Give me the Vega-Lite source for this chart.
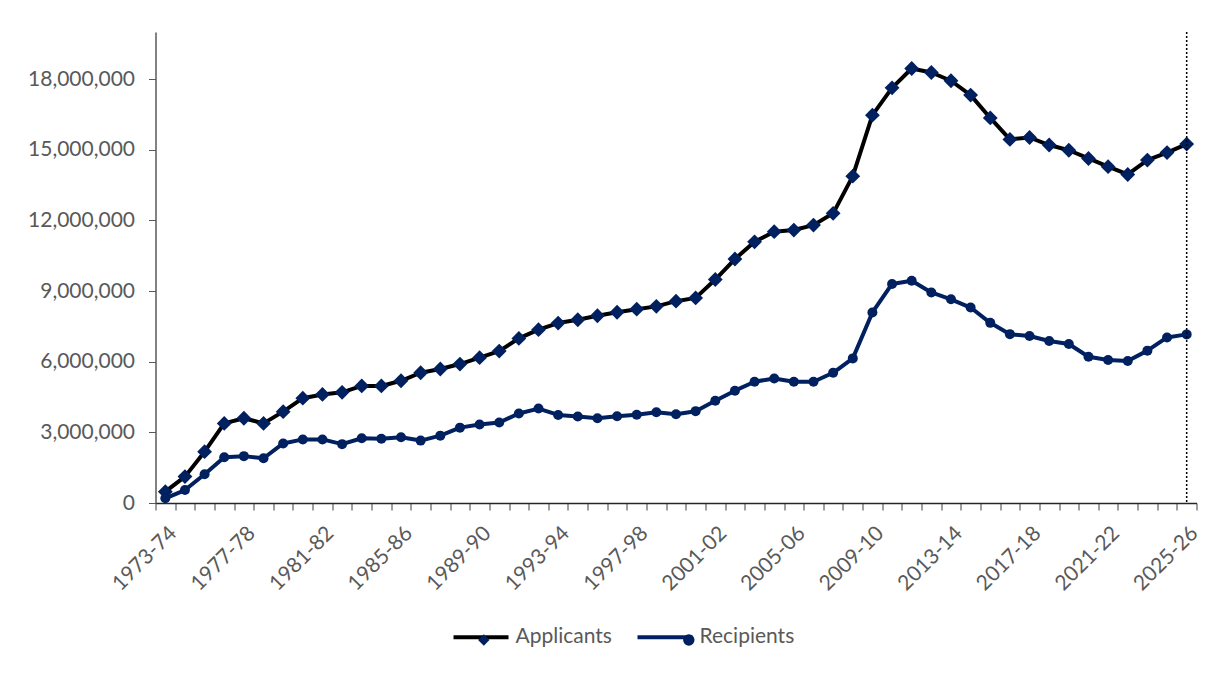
{
  "$schema": "https://vega.github.io/schema/vega-lite/v6.json",
  "autosize": "none",
  "width": 1041,
  "height": 471,
  "padding": {"left": 155.5, "top": 32, "right": 34.5, "bottom": 170},
  "background": "white",
  "data": {
    "values": [
      {"year": "1973-74", "series": "Applicants", "value": 480000},
      {"year": "1974-75", "series": "Applicants", "value": 1120000},
      {"year": "1975-76", "series": "Applicants", "value": 2180000},
      {"year": "1976-77", "series": "Applicants", "value": 3380000},
      {"year": "1977-78", "series": "Applicants", "value": 3600000},
      {"year": "1978-79", "series": "Applicants", "value": 3380000},
      {"year": "1979-80", "series": "Applicants", "value": 3880000},
      {"year": "1980-81", "series": "Applicants", "value": 4450000},
      {"year": "1981-82", "series": "Applicants", "value": 4610000},
      {"year": "1982-83", "series": "Applicants", "value": 4700000},
      {"year": "1983-84", "series": "Applicants", "value": 4970000},
      {"year": "1984-85", "series": "Applicants", "value": 4970000},
      {"year": "1985-86", "series": "Applicants", "value": 5190000},
      {"year": "1986-87", "series": "Applicants", "value": 5530000},
      {"year": "1987-88", "series": "Applicants", "value": 5690000},
      {"year": "1988-89", "series": "Applicants", "value": 5900000},
      {"year": "1989-90", "series": "Applicants", "value": 6170000},
      {"year": "1990-91", "series": "Applicants", "value": 6450000},
      {"year": "1991-92", "series": "Applicants", "value": 6990000},
      {"year": "1992-93", "series": "Applicants", "value": 7360000},
      {"year": "1993-94", "series": "Applicants", "value": 7640000},
      {"year": "1994-95", "series": "Applicants", "value": 7780000},
      {"year": "1995-96", "series": "Applicants", "value": 7950000},
      {"year": "1996-97", "series": "Applicants", "value": 8100000},
      {"year": "1997-98", "series": "Applicants", "value": 8230000},
      {"year": "1998-99", "series": "Applicants", "value": 8350000},
      {"year": "1999-00", "series": "Applicants", "value": 8570000},
      {"year": "2000-01", "series": "Applicants", "value": 8710000},
      {"year": "2001-02", "series": "Applicants", "value": 9490000},
      {"year": "2002-03", "series": "Applicants", "value": 10360000},
      {"year": "2003-04", "series": "Applicants", "value": 11090000},
      {"year": "2004-05", "series": "Applicants", "value": 11520000},
      {"year": "2005-06", "series": "Applicants", "value": 11590000},
      {"year": "2006-07", "series": "Applicants", "value": 11800000},
      {"year": "2007-08", "series": "Applicants", "value": 12300000},
      {"year": "2008-09", "series": "Applicants", "value": 13880000},
      {"year": "2009-10", "series": "Applicants", "value": 16470000},
      {"year": "2010-11", "series": "Applicants", "value": 17630000},
      {"year": "2011-12", "series": "Applicants", "value": 18450000},
      {"year": "2012-13", "series": "Applicants", "value": 18280000},
      {"year": "2013-14", "series": "Applicants", "value": 17930000},
      {"year": "2014-15", "series": "Applicants", "value": 17320000},
      {"year": "2015-16", "series": "Applicants", "value": 16350000},
      {"year": "2016-17", "series": "Applicants", "value": 15440000},
      {"year": "2017-18", "series": "Applicants", "value": 15520000},
      {"year": "2018-19", "series": "Applicants", "value": 15200000},
      {"year": "2019-20", "series": "Applicants", "value": 14980000},
      {"year": "2020-21", "series": "Applicants", "value": 14630000},
      {"year": "2021-22", "series": "Applicants", "value": 14280000},
      {"year": "2022-23", "series": "Applicants", "value": 13950000},
      {"year": "2023-24", "series": "Applicants", "value": 14560000},
      {"year": "2024-25", "series": "Applicants", "value": 14880000},
      {"year": "2025-26", "series": "Applicants", "value": 15240000},
      {"year": "1973-74", "series": "Recipients", "value": 200000},
      {"year": "1974-75", "series": "Recipients", "value": 550000},
      {"year": "1975-76", "series": "Recipients", "value": 1220000},
      {"year": "1976-77", "series": "Recipients", "value": 1940000},
      {"year": "1977-78", "series": "Recipients", "value": 1990000},
      {"year": "1978-79", "series": "Recipients", "value": 1900000},
      {"year": "1979-80", "series": "Recipients", "value": 2530000},
      {"year": "1980-81", "series": "Recipients", "value": 2700000},
      {"year": "1981-82", "series": "Recipients", "value": 2700000},
      {"year": "1982-83", "series": "Recipients", "value": 2500000},
      {"year": "1983-84", "series": "Recipients", "value": 2750000},
      {"year": "1984-85", "series": "Recipients", "value": 2730000},
      {"year": "1985-86", "series": "Recipients", "value": 2790000},
      {"year": "1986-87", "series": "Recipients", "value": 2650000},
      {"year": "1987-88", "series": "Recipients", "value": 2860000},
      {"year": "1988-89", "series": "Recipients", "value": 3200000},
      {"year": "1989-90", "series": "Recipients", "value": 3330000},
      {"year": "1990-91", "series": "Recipients", "value": 3420000},
      {"year": "1991-92", "series": "Recipients", "value": 3800000},
      {"year": "1992-93", "series": "Recipients", "value": 4010000},
      {"year": "1993-94", "series": "Recipients", "value": 3740000},
      {"year": "1994-95", "series": "Recipients", "value": 3670000},
      {"year": "1995-96", "series": "Recipients", "value": 3600000},
      {"year": "1996-97", "series": "Recipients", "value": 3680000},
      {"year": "1997-98", "series": "Recipients", "value": 3750000},
      {"year": "1998-99", "series": "Recipients", "value": 3850000},
      {"year": "1999-00", "series": "Recipients", "value": 3770000},
      {"year": "2000-01", "series": "Recipients", "value": 3900000},
      {"year": "2001-02", "series": "Recipients", "value": 4340000},
      {"year": "2002-03", "series": "Recipients", "value": 4770000},
      {"year": "2003-04", "series": "Recipients", "value": 5150000},
      {"year": "2004-05", "series": "Recipients", "value": 5290000},
      {"year": "2005-06", "series": "Recipients", "value": 5150000},
      {"year": "2006-07", "series": "Recipients", "value": 5150000},
      {"year": "2007-08", "series": "Recipients", "value": 5530000},
      {"year": "2008-09", "series": "Recipients", "value": 6140000},
      {"year": "2009-10", "series": "Recipients", "value": 8090000},
      {"year": "2010-11", "series": "Recipients", "value": 9300000},
      {"year": "2011-12", "series": "Recipients", "value": 9440000},
      {"year": "2012-13", "series": "Recipients", "value": 8940000},
      {"year": "2013-14", "series": "Recipients", "value": 8650000},
      {"year": "2014-15", "series": "Recipients", "value": 8300000},
      {"year": "2015-16", "series": "Recipients", "value": 7650000},
      {"year": "2016-17", "series": "Recipients", "value": 7170000},
      {"year": "2017-18", "series": "Recipients", "value": 7090000},
      {"year": "2018-19", "series": "Recipients", "value": 6880000},
      {"year": "2019-20", "series": "Recipients", "value": 6750000},
      {"year": "2020-21", "series": "Recipients", "value": 6210000},
      {"year": "2021-22", "series": "Recipients", "value": 6070000},
      {"year": "2022-23", "series": "Recipients", "value": 6030000},
      {"year": "2023-24", "series": "Recipients", "value": 6470000},
      {"year": "2024-25", "series": "Recipients", "value": 7030000},
      {"year": "2025-26", "series": "Recipients", "value": 7160000}
    ]
  },
  "encoding": {
    "x": {
      "field": "year",
      "type": "ordinal",
      "title": null,
      "scale": {"type": "band", "paddingInner": 0, "paddingOuter": 0},
      "axis": {
        "tickBand": "extent",
        "labelAngle": -45,
        "labelFontSize": 21,
        "labelColor": "#595959",
        "labelPadding": 12,
        "tickSize": 7,
        "tickColor": "#404040",
        "domainColor": "#262626",
        "domainWidth": 1.5,
        "labelExpr": "indexof(['1973-74', '1977-78', '1981-82', '1985-86', '1989-90', '1993-94', '1997-98', '2001-02', '2005-06', '2009-10', '2013-14', '2017-18', '2021-22', '2025-26'], datum.value) >= 0 ? datum.value : ''"
      }
    }
  },
  "layer": [
    {
      "mark": {"type": "line", "strokeWidth": 4, "strokeJoin": "round"},
      "encoding": {
        "y": {
          "field": "value",
          "type": "quantitative",
          "title": null,
          "scale": {"domain": [0, 20000000], "nice": false},
          "axis": {
            "values": [0, 3000000, 6000000, 9000000, 12000000, 15000000, 18000000],
            "format": ",.0f",
            "grid": false,
            "labelFontSize": 21,
            "labelColor": "#595959",
            "labelPadding": 14,
            "tickSize": 7,
            "tickColor": "#595959",
            "domainColor": "#595959",
            "domainWidth": 1.5
          }
        },
        "color": {
          "field": "series",
          "type": "nominal",
          "title": null,
          "scale": {"domain": ["Applicants", "Recipients"], "range": ["#000000", "#002060"]},
          "legend": {
            "orient": "none",
            "direction": "horizontal",
            "legendX": 296,
            "legendY": 575.5,
            "symbolType": "stroke",
            "symbolSize": 3025,
            "symbolStrokeWidth": 4,
            "labelFontSize": 21,
            "labelColor": "#595959",
            "labelOffset": 5,
            "columnPadding": 17
          }
        }
      }
    },
    {
      "transform": [
        {"filter": "datum.series == 'Applicants'"},
        {"calculate": "datum.series", "as": "marker"}
      ],
      "mark": {"type": "point", "filled": true, "opacity": 1, "color": "#002060", "size": 220},
      "encoding": {
        "y": {"field": "value", "type": "quantitative"},
        "shape": {
          "field": "marker",
          "type": "nominal",
          "title": null,
          "scale": {"range": ["diamond", "circle"]},
          "legend": {
            "orient": "none",
            "direction": "horizontal",
            "legendX": 296,
            "legendY": 597.3,
            "symbolSize": 130,
            "symbolFillColor": "#002060",
            "symbolStrokeColor": "#002060",
            "symbolOffset": 21.8,
            "labelFontSize": 21,
            "labelColor": "rgba(0,0,0,0)",
            "labelOffset": 48.6,
            "columnPadding": 17
          }
        }
      }
    },
    {
      "transform": [
        {"filter": "datum.series == 'Recipients'"},
        {"calculate": "datum.series", "as": "marker"}
      ],
      "mark": {"type": "point", "filled": true, "opacity": 1, "color": "#002060", "size": 100},
      "encoding": {
        "y": {"field": "value", "type": "quantitative"},
        "shape": {
          "field": "marker",
          "type": "nominal",
          "title": null,
          "scale": {"range": ["diamond", "circle"]},
          "legend": {
            "orient": "none",
            "direction": "horizontal",
            "legendX": 296,
            "legendY": 597.3,
            "symbolSize": 130,
            "symbolFillColor": "#002060",
            "symbolStrokeColor": "#002060",
            "symbolOffset": 21.8,
            "labelFontSize": 21,
            "labelColor": "rgba(0,0,0,0)",
            "labelOffset": 48.6,
            "columnPadding": 17
          }
        }
      }
    },
    {
      "transform": [{"filter": "datum.series == 'Applicants' && datum.year == '2025-26'"}],
      "mark": {"type": "rule", "color": "#000000", "strokeWidth": 1.5, "strokeDash": [2, 2]},
      "encoding": {}
    }
  ],
  "config": {
    "font": "Lato",
    "view": {"stroke": null}
  }
}
